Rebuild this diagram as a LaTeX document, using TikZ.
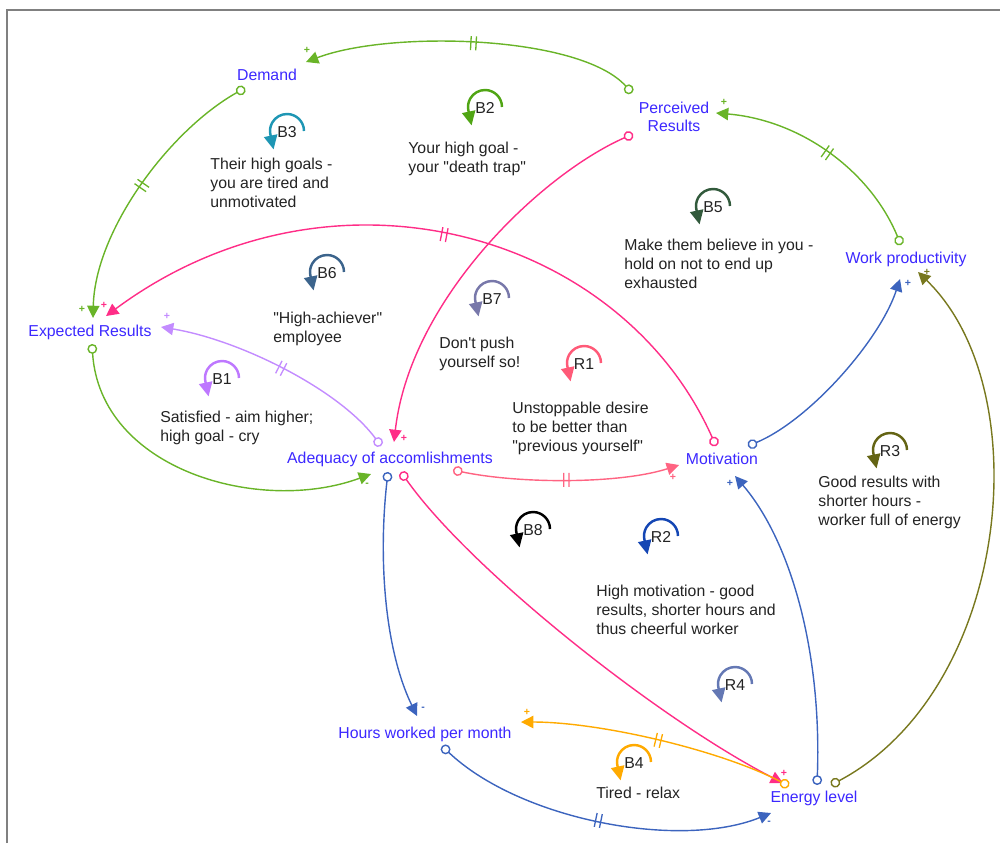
\documentclass[tikz,border=0pt]{standalone}
\usepackage{fontspec}
\setmainfont{Liberation Sans}
\usetikzlibrary{arrows.meta,decorations.markings}

\definecolor{framegray}{RGB}{128,128,128}
\definecolor{varblue}{RGB}{60,40,255}
\definecolor{txtgray}{RGB}{35,35,35}
\definecolor{lnkgreen}{RGB}{105,180,40}
\definecolor{lnkpink}{RGB}{255,45,135}
\definecolor{lnkrose}{RGB}{255,100,130}
\definecolor{lnklilac}{RGB}{195,140,255}
\definecolor{lnkblue}{RGB}{60,100,190}
\definecolor{lnkolive}{RGB}{120,120,30}
\definecolor{lnkorange}{RGB}{255,170,0}
\definecolor{loopteal}{RGB}{30,150,180}
\definecolor{loopgreen}{RGB}{80,165,20}
\definecolor{loopforest}{RGB}{50,90,60}
\definecolor{loopsteel}{RGB}{60,100,140}
\definecolor{loopslate}{RGB}{120,120,170}
\definecolor{looprose}{RGB}{255,90,120}
\definecolor{looplilac}{RGB}{190,120,255}
\definecolor{loopolive}{RGB}{100,100,20}
\definecolor{loopnavy}{RGB}{20,70,180}
\definecolor{loopgray}{RGB}{100,120,180}

\newcommand{\qq}{\textquotedbl}

\tikzset{
  var/.style={text=varblue, inner sep=0pt, align=center, font=\fontsize{9}{10.6}\selectfont},
  note/.style={text=txtgray, inner sep=0pt, anchor=north west, align=left, font=\fontsize{9}{10.6}\selectfont},
  lbl/.style={text=txtgray, inner sep=0pt, font=\fontsize{9}{10.6}\selectfont},
  pol/.style={inner sep=0pt, font=\fontsize{6}{6}\selectfont\bfseries},
  lnk/.style={draw=#1, line width=0.8pt, {Circle[fill=white,length=5.6pt]}-{Triangle[length=7pt,width=7pt]}},
  loopicon/.style={draw=#1, line width=1.4pt, -{Triangle[length=8pt,width=7.5pt]}},
  delay/.style={postaction={decorate, decoration={markings, mark=at position #1 with {
    \draw[arrows=-, line width=0.75pt] (-1.5pt,-4pt) -- (-1.5pt,4pt) (1.5pt,-4pt) -- (1.5pt,4pt);}}}},
  delay/.default=0.5
}

\begin{document}
\begin{tikzpicture}[x=0.02cm, y=-0.02cm]
	\useasboundingbox (0,0) rectangle (1000,843);
	\draw[framegray, line width=1.1pt] (7,843) -- (7,10) -- (1000,10);

	% variables
	\node[var] (dem) at (267,75) {Demand};
	\node[var] (pr) at (674,117) {Perceived\\Results};
	\node[var] (wp) at (906,259) {Work productivity};
	\node[var] (er) at (90,332) {Expected Results};
	\node[var] (adq) at (390,459) {Adequacy of accomlishments};
	\node[var] (mot) at (722,459) {Motivation};
	\node[var] (hrs) at (425,734) {Hours worked per month};
	\node[var] (en) at (814,798) {Energy level};

	% links
	\draw[lnk=lnkgreen, delay] ([shift={(-42,-24)}]pr.center) .. controls (580,35) and (390,30) .. ([shift={(39,-13)}]dem.center);
	\draw[lnk=lnkgreen, delay] ([shift={(-22,13)}]dem.center) .. controls (170,130) and (95,230) .. ([shift={(3,-14)}]er.center);
	\draw[lnk=lnkgreen, delay] ([shift={(-5,-14)}]wp.center) .. controls (870,170) and (800,120) .. ([shift={(42,-4)}]pr.center);
	\draw[lnk=lnkpink, delay] ([shift={(-6,-13)}]mot.center) .. controls (620,230) and (330,150) .. ([shift={(16,-16)}]er.center);
	\draw[lnk=lnkpink] ([shift={(-41,17)}]pr.center) .. controls (540,175) and (410,300) .. ([shift={(4,-17)}]adq.center);
	\draw[lnk=lnklilac, delay] ([shift={(-9,-13)}]adq.center) .. controls (340,390) and (240,340) .. ([shift={(71,-5)}]er.center);
	\draw[lnk=lnkgreen] ([shift={(2,12)}]er.center) .. controls (100,470) and (260,515) .. ([shift={(-19,15)}]adq.center);
	\draw[lnk=lnkrose, delay] ([shift={(63,11)}]adq.center) .. controls (520,484) and (620,484) .. ([shift={(-43,6)}]mot.center);
	\draw[lnk=lnkblue] ([shift={(26,-13)}]mot.center) .. controls (810,420) and (880,340) .. ([shift={(-6,20)}]wp.center);
	\draw[lnk=lnkblue] ([shift={(3,-13)}]en.center) .. controls (822,650) and (790,540) .. ([shift={(13,17)}]mot.center);
	\draw[lnk=lnkolive] ([shift={(17,-13)}]en.center) .. controls (1010,690) and (1040,390) .. ([shift={(12,13)}]wp.center);
	\draw[lnk=lnkblue] ([shift={(-2,13)}]adq.center) .. controls (378,560) and (385,650) .. ([shift={(-8,-18)}]hrs.center);
	\draw[lnk=lnkpink] ([shift={(11,13)}]adq.center) .. controls (470,570) and (660,720) .. ([shift={(-31,-15)}]en.center);
	\draw[lnk=lnkorange, delay] ([shift={(-25,-12)}]en.center) .. controls (720,750) and (600,722) .. ([shift={(96,-12)}]hrs.center);
	\draw[lnk=lnkblue, delay] ([shift={(17,12)}]hrs.center) .. controls (520,820) and (680,850) .. ([shift={(-43,15)}]en.center);

	% polarities
	\node[pol, text=lnkgreen] (s1) at (307,50) {+};
	\node[pol, text=lnkgreen] (s2) at (82,309) {+};
	\node[pol, text=lnkgreen] (s3) at (724,102) {+};
	\node[pol, text=lnkpink] (s4) at (104,305) {+};
	\node[pol, text=lnkpink] (s5) at (404,438) {+};
	\node[pol, text=lnklilac] (s6) at (167,316) {+};
	\node[pol, text=lnkgreen] (s7) at (367,485) {-};
	\node[pol, text=lnkrose] (s8) at (673,477) {+};
	\node[pol, text=lnkblue] (s9) at (908,283) {+};
	\node[pol, text=lnkblue] (s10) at (730,483) {+};
	\node[pol, text=lnkolive] (s11) at (927,272) {+};
	\node[pol, text=lnkblue] (s12) at (423,709) {-};
	\node[pol, text=lnkpink] (s13) at (784,773) {+};
	\node[pol, text=lnkorange] (s14) at (527,712) {+};
	\node[pol, text=lnkblue] (s15) at (769,823) {-};

	% loops
	\node[lbl] (b3) at (287,132) {B3};
	\draw[loopicon=loopteal] ([shift={(17,-1)}]b3.center) arc[start angle=0, end angle=-195, radius=17] -- ++(3,14);
	\node[lbl] (b2) at (485,108) {B2};
	\draw[loopicon=loopgreen] ([shift={(17,-1)}]b2.center) arc[start angle=0, end angle=-195, radius=17] -- ++(3,14);
	\node[lbl] (b5) at (713,207) {B5};
	\draw[loopicon=loopforest] ([shift={(17,-1)}]b5.center) arc[start angle=0, end angle=-195, radius=17] -- ++(3,14);
	\node[lbl] (b6) at (327,273) {B6};
	\draw[loopicon=loopsteel] ([shift={(17,-1)}]b6.center) arc[start angle=0, end angle=-195, radius=17] -- ++(3,14);
	\node[lbl] (b7) at (492,299) {B7};
	\draw[loopicon=loopslate] ([shift={(17,-1)}]b7.center) arc[start angle=0, end angle=-195, radius=17] -- ++(3,14);
	\node[lbl] (r1) at (584,364) {R1};
	\draw[loopicon=looprose] ([shift={(17,-1)}]r1.center) arc[start angle=0, end angle=-195, radius=17] -- ++(3,14);
	\node[lbl] (b1) at (222,379) {B1};
	\draw[loopicon=looplilac] ([shift={(17,-1)}]b1.center) arc[start angle=0, end angle=-195, radius=17] -- ++(3,14);
	\node[lbl] (r3) at (890,451) {R3};
	\draw[loopicon=loopolive] ([shift={(17,-1)}]r3.center) arc[start angle=0, end angle=-195, radius=17] -- ++(3,14);
	\node[lbl] (b8) at (533,530) {B8};
	\draw[loopicon=black] ([shift={(17,-1)}]b8.center) arc[start angle=0, end angle=-195, radius=17] -- ++(3,14);
	\node[lbl] (r2) at (661,537) {R2};
	\draw[loopicon=loopnavy] ([shift={(17,-1)}]r2.center) arc[start angle=0, end angle=-195, radius=17] -- ++(3,14);
	\node[lbl] (r4) at (735,685) {R4};
	\draw[loopicon=loopgray] ([shift={(17,-1)}]r4.center) arc[start angle=0, end angle=-195, radius=17] -- ++(3,14);
	\node[lbl] (b4) at (634,763) {B4};
	\draw[loopicon=lnkorange] ([shift={(17,-1)}]b4.center) arc[start angle=0, end angle=-195, radius=17] -- ++(3,14);

	% loop notes
	\node[note] (n-b3) at (210,158) {Their high goals -\\you are tired and\\unmotivated};
	\node[note] (n-b2) at (408,142) {Your high goal -\\your \qq death trap\qq};
	\node[note] (n-b5) at (624,239) {Make them believe in you -\\hold on not to end up\\exhausted};
	\node[note] (n-b6) at (273,312) {\qq High-achiever\qq\\employee};
	\node[note] (n-b7) at (439,337) {Don\textquotesingle t push\\yourself so!};
	\node[note] (n-r1) at (512,402) {Unstoppable desire\\to be better than\\\qq previous yourself\qq};
	\node[note] (n-b1) at (160,411) {Satisfied - aim higher;\\high goal - cry};
	\node[note] (n-r3) at (818,476) {Good results with\\shorter hours -\\worker full of energy};
	\node[note] (n-r2) at (596,585) {High motivation - good\\results, shorter hours and\\thus cheerful worker};
	\node[note] (n-b4) at (596,787) {Tired - relax};
\end{tikzpicture}
\end{document}
